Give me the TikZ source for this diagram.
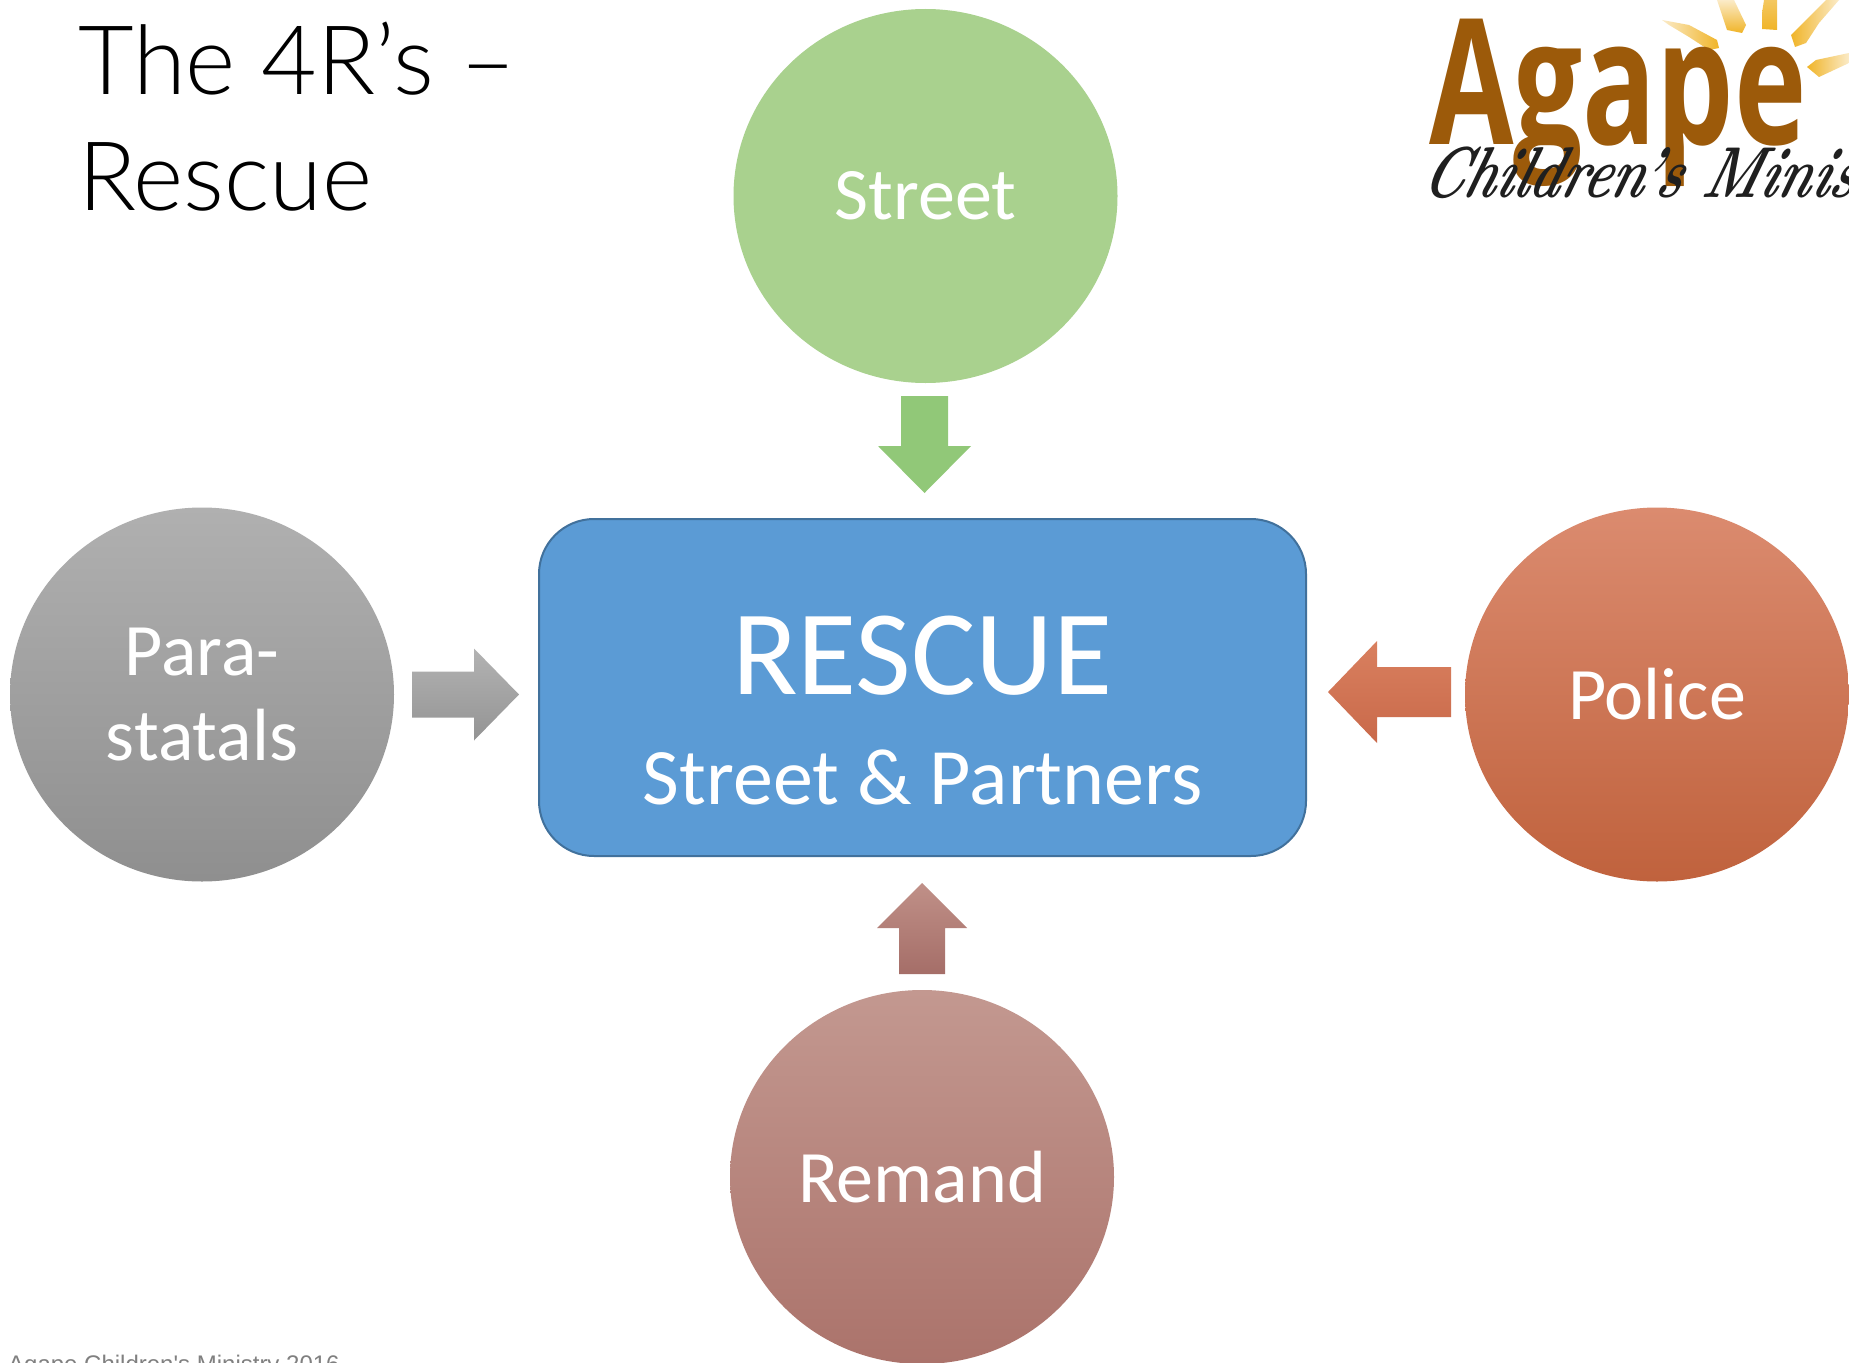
\documentclass[tikz,border=0pt]{standalone}
\usepackage{fontspec}
\usetikzlibrary{shapes.geometric,calc}
\newfontfamily\carlito{Carlito}
\newfontfamily\lightface{Lato Light}
\newfontfamily\arialish{Liberation Sans}
\newfontfamily\opensans{Open Sans}
\definecolor{raygold}{HTML}{F0B428}
\definecolor{raypale}{HTML}{FBEBC8}
\tikzset{
  disc/.style={ellipse,inner sep=0pt,minimum width=384pt,minimum height=374pt,align=center,text=white,
    font=\carlito\fontsize{74}{85}\selectfont},
  ray/.style={draw=none},
}
% tail, tip, half shaft width, half head width, head length
\newcommand{\blockarrow}[6]{%
  \shade[#1] ($(#2)!#4!90:(#3)$) -- ($(#3)!#6!(#2)!#4!-90:(#2)$) -- ($(#3)!#6!(#2)!#5!-90:(#2)$) -- (#3)
    -- ($(#3)!#6!(#2)!#5!90:(#2)$) -- ($(#3)!#6!(#2)!#4!90:(#2)$) -- ($(#2)!#4!-90:(#3)$) -- cycle;}
\begin{document}
\begin{tikzpicture}[x=1pt,y=-1pt]
\useasboundingbox (0,0) rectangle (1849,1362);
\clip (0,0) rectangle (1849,1362);
\fill[white] (0,0) rectangle (1849,1362);
% title and footer
\node[anchor=north west,inner sep=0pt,align=left,font=\lightface\fontsize{96}{116}\selectfont,text=black] (title) at (78,22) {The 4R’s –\\Rescue};
\node[anchor=base west,inner sep=0pt,font=\arialish\fontsize{24}{28}\selectfont,text=black!50] (footer) at (8,1372) {Agape Children's Ministry 2016};
% logo
\shade[ray,left color=raypale,right color=raygold] (1662,20) -- (1689,25) -- (1717,40) -- (1719,48) -- (1709,50) -- (1689,37) -- (1669,25) -- cycle;
\shade[ray,top color=raypale,bottom color=raygold] (1717,0) -- (1734,0) -- (1746,25) -- (1742,33) -- (1727,30) -- cycle;
\shade[ray,top color=raygold!65!raypale,bottom color=raygold] (1764,0) -- (1777,0) -- (1777,30) -- (1762,29) -- (1762,13) -- cycle;
\shade[ray,right color=raypale,left color=raygold] (1839,0) -- (1826,0) -- (1791,35) -- (1795,47) -- (1806,43) -- (1819,23) -- cycle;
\shade[ray,left color=raygold,right color=raypale] (1849,53) -- (1816,60) -- (1807,67) -- (1819,77) -- (1849,63) -- cycle;
\node[anchor=base west,inner sep=0pt,text={rgb,255:red,156;green,90;blue,10},font=\opensans\bfseries\fontsize{175}{175}\selectfont] (agape) at (1429,145) {\scalebox{.70}[1]{Agape}};
\node[anchor=base west,inner sep=0pt,text=black!88,xslant=.3,transform shape,font=\rmfamily\bfseries\itshape\fontsize{72}{72}\selectfont] (ministry) at (1419,197) {\scalebox{.72}[1]{Children's Ministry}};
% circles
\node[disc,top color=black!31,bottom color=black!44] (para) at (202,694.5) {Para-\\statals};
\node[disc,fill={rgb,255:red,169;green,209;blue,142}] (street) at (925.5,196) {Street};
\node[disc,top color={rgb,255:red,219;green,139;blue,111},bottom color={rgb,255:red,192;green,98;blue,61}] (police) at (1657,694.5) {Police};
\node[disc,top color={rgb,255:red,195;green,152;blue,144},bottom color={rgb,255:red,171;green,115;blue,107}] (remand) at (922,1177) {Remand};
% centre box
\node[rounded corners=55pt,draw={rgb,255:red,65;green,113;blue,156},line width=2pt,fill={rgb,255:red,91;green,155;blue,213},
  minimum width=767pt,minimum height=337pt,inner sep=0pt,align=center,text=white,font=\carlito\fontsize{80}{110}\selectfont] (rescue) at (922.5,687.5)
  {\rule{0pt}{125pt}{\fontsize{121}{110}\selectfont RESCUE}\\Street \& Partners};
% block arrows
\coordinate (t1) at (412,694.5); \coordinate (h1) at (519,694.5);
\coordinate (t2) at (924.5,396); \coordinate (h2) at (924.5,493);
\coordinate (t3) at (1451,692);  \coordinate (h3) at (1328,692);
\coordinate (t4) at (922,974);   \coordinate (h4) at (922,883);
\blockarrow{top color=black!30,bottom color=black!42}{t1}{h1}{23pt}{46pt}{45pt}
\blockarrow{top color={rgb,255:red,145;green,200;blue,120},bottom color={rgb,255:red,145;green,200;blue,120}}{t2}{h2}{23.5pt}{46.5pt}{47pt}
\blockarrow{top color={rgb,255:red,217;green,128;blue,95},bottom color={rgb,255:red,201;green,105;blue,74}}{t3}{h3}{25pt}{51pt}{49pt}
\blockarrow{top color={rgb,255:red,192;green,144;blue,136},bottom color={rgb,255:red,165;green,110;blue,104}}{t4}{h4}{23pt}{45pt}{45pt}
\end{tikzpicture}
\end{document}
